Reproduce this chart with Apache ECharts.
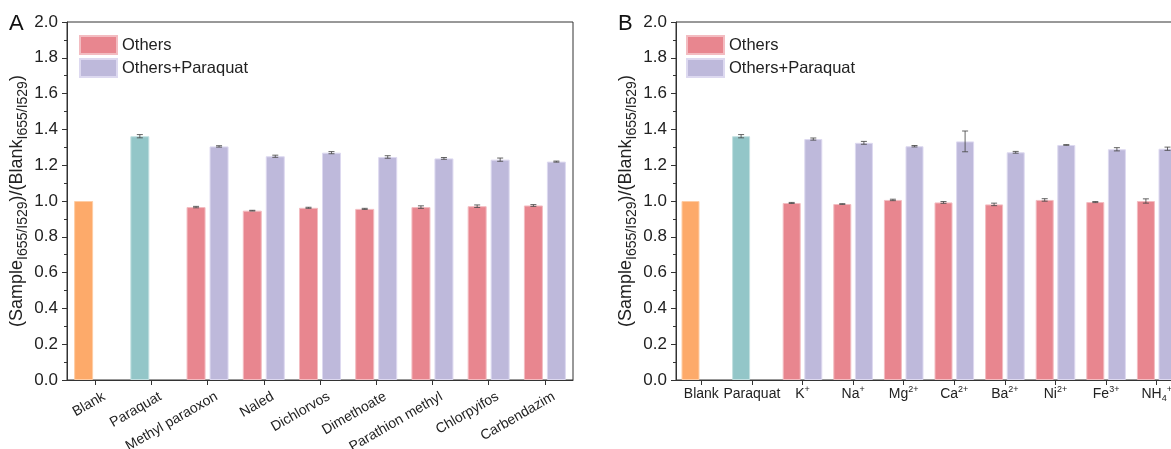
<!DOCTYPE html>
<html>
<head>
<meta charset="utf-8">
<script src="https://cdn.jsdelivr.net/npm/echarts@6/dist/echarts.min.js"></script>
<style>
  html, body { margin: 0; padding: 0; background: #fff; }
  #chart { width: 1171px; height: 449px; }
</style>
</head>
<body>
<div id="chart"></div>
<script>
// Panel A: pesticides
const catsA = ['Blank', 'Paraquat', 'Methyl paraoxon', 'Naled', 'Dichlorvos', 'Dimethoate', 'Parathion methyl', 'Chlorpyifos', 'Carbendazim'];
const othersA = [1.0, 1.362, 0.966, 0.946, 0.962, 0.956, 0.966, 0.971, 0.975];
const othersErrA = [0, 0.009, 0.004, 0.002, 0.003, 0.003, 0.007, 0.007, 0.005];
const plusA = [null, null, 1.305, 1.250, 1.270, 1.246, 1.238, 1.231, 1.220];
const plusErrA = [0, 0, 0.004, 0.006, 0.006, 0.007, 0.005, 0.009, 0.003];

// Panel B: metal ions
const catsB = ['Blank', 'Paraquat', 'K+', 'Na+', 'Mg2+', 'Ca2+', 'Ba2+', 'Ni2+', 'Fe3+', 'NH4+'];
const othersB = [1.0, 1.362, 0.989, 0.983, 1.006, 0.992, 0.981, 1.006, 0.994, 1.0];
const othersErrB = [0, 0.009, 0.003, 0.002, 0.004, 0.005, 0.007, 0.007, 0.003, 0.012];
const plusB = [null, null, 1.346, 1.325, 1.306, 1.333, 1.272, 1.313, 1.289, 1.292];
const plusErrB = [0, 0, 0.006, 0.008, 0.004, 0.058, 0.005, 0.002, 0.009, 0.009];

const yTicks = [0, 0.2, 0.4, 0.6, 0.8, 1.0, 1.2, 1.4, 1.6, 1.8, 2.0];
const seriesNames = ['Others', 'Others+Paraquat'];
const ionLabels = {
  'K+': 'K{sup|+}', 'Na+': 'Na{sup|+}', 'Mg2+': 'Mg{sup|2+}', 'Ca2+': 'Ca{sup|2+}',
  'Ba2+': 'Ba{sup|2+}', 'Ni2+': 'Ni{sup|2+}', 'Fe3+': 'Fe{sup|3+}', 'NH4+': 'NH{sub|4}{sup|+}'
};

const FONT = "'Liberation Sans', Arial, sans-serif";
const AXIS = '#333';
const C_OTHERS = '#E8868F', B_OTHERS = '#F3BCC1';
const C_PLUS = '#BEB9DB', B_PLUS = '#DDD9F0';
const C_BLANK = '#FDAA6A', B_BLANK = '#FECDA5';
const C_PQ = '#93C6C8', B_PQ = '#C3E0E1';

const chart = echarts.init(document.getElementById('chart'));

function firstSeriesData(vals) {
  return vals.map((v, i) => {
    if (i === 0) return { value: v, itemStyle: { color: C_BLANK, borderColor: B_BLANK } };
    if (i === 1) return { value: v, itemStyle: { color: C_PQ, borderColor: B_PQ } };
    return v;
  });
}

function errData(vals, errs) {
  const out = [];
  vals.forEach((v, i) => { if (v != null && errs[i] > 0) out.push([i, v, errs[i]]); });
  return out;
}

function errRender(sign, barW, gapRatio) {
  return function (params, api) {
    const i = api.value(0), v = api.value(1), e = api.value(2);
    const shift = sign * barW * (1 + gapRatio) / 2;
    const top = api.coord([i, v + e]);
    const bot = api.coord([i, v - e]);
    const x = top[0] + shift;
    const cap = 3;
    const style = { stroke: '#4a4a4a', lineWidth: 1, opacity: 0.85 };
    return {
      type: 'group',
      children: [
        { type: 'line', shape: { x1: x, y1: top[1], x2: x, y2: bot[1] }, style },
        { type: 'line', shape: { x1: x - cap, y1: top[1], x2: x + cap, y2: top[1] }, style },
        { type: 'line', shape: { x1: x - cap, y1: bot[1], x2: x + cap, y2: bot[1] }, style }
      ]
    };
  };
}

function yAxisFor(gridIndex) {
  return {
    type: 'value', gridIndex, min: 0, max: 2.0, interval: 0.2,
    name: '(Sample{s|I655/I529})/(Blank{s|I655/I529})',
    nameLocation: 'middle', nameGap: 35, nameRotate: 90,
    nameTextStyle: {
      fontFamily: FONT, fontSize: 18, color: '#222', lineHeight: 26,
      rich: { s: { fontFamily: FONT, fontSize: 14, color: '#222', lineHeight: 14, verticalAlign: 'bottom' } }
    },
    axisLine: { show: true, lineStyle: { color: AXIS, width: 1 } },
    axisTick: { show: true, inside: false, length: 5, lineStyle: { color: AXIS } },
    minorTick: { show: true, splitNumber: 2, length: 3, lineStyle: { color: AXIS } },
    splitLine: { show: false },
    axisLabel: {
      fontFamily: FONT, fontSize: 17, color: '#222', margin: 9,
      formatter: v => yTicks.includes(Math.round(v * 10) / 10) ? v.toFixed(1) : ''
    }
  };
}

const BW_A = 19, GAP_A = 0.21;
const BW_B = 18, GAP_B = 0.2;

const legendBase = {
  data: seriesNames, orient: 'vertical', top: 35, padding: 0,
  itemWidth: 37, itemHeight: 18, itemGap: 3, icon: 'rect',
  textStyle: { fontFamily: FONT, fontSize: 16.5, color: '#222' }
};

const option = {
  animation: false,
  backgroundColor: '#fff',
  textStyle: { fontFamily: FONT },
  graphic: [
    { type: 'text', left: 9, top: 13, style: { text: 'A', fontFamily: FONT, fontSize: 22, fill: '#111' } },
    { type: 'text', left: 618, top: 13, style: { text: 'B', fontFamily: FONT, fontSize: 22, fill: '#111' } }
  ],
  grid: [
    {
      left: 67, top: 22, width: 506, height: 358, containLabel: false, outerBoundsMode: 'none',
      show: true, borderColor: AXIS, borderWidth: 1, backgroundColor: 'transparent'
    },
    {
      left: 676, top: 22, width: 506, height: 358, containLabel: false, outerBoundsMode: 'none',
      show: true, borderColor: AXIS, borderWidth: 1, backgroundColor: 'transparent'
    }
  ],
  legend: [
    Object.assign({}, legendBase, { left: 79 }),
    Object.assign({}, legendBase, { left: 686 })
  ],
  xAxis: [
    {
      type: 'category', gridIndex: 0, data: catsA,
      axisLine: { lineStyle: { color: AXIS, width: 1 } },
      axisTick: { show: true, alignWithLabel: true, length: 5, lineStyle: { color: AXIS } },
      axisLabel: {
        fontFamily: FONT, fontSize: 14, color: '#222', rotate: 30, margin: 0, interval: 0,
        lineHeight: 18,
        // two blank lines above each name push the slanted text off the axis
        formatter: v => '\n\n' + v
      }
    },
    {
      type: 'category', gridIndex: 1, data: catsB,
      axisLine: { lineStyle: { color: AXIS, width: 1 } },
      axisTick: { show: true, alignWithLabel: true, length: 5, lineStyle: { color: AXIS } },
      axisLabel: {
        fontFamily: FONT, fontSize: 14, color: '#222', margin: 5, interval: 0, lineHeight: 18,
        formatter: v => ionLabels[v] || v,
        rich: {
          sup: { fontFamily: FONT, fontSize: 9, color: '#222', lineHeight: 9, verticalAlign: 'top' },
          sub: { fontFamily: FONT, fontSize: 9, color: '#222', lineHeight: 9, verticalAlign: 'bottom' }
        }
      }
    }
  ],
  yAxis: [yAxisFor(0), yAxisFor(1)],
  series: [
    {
      name: seriesNames[0], type: 'bar', xAxisIndex: 0, yAxisIndex: 0,
      barWidth: BW_A, barGap: (GAP_A * 100) + '%',
      itemStyle: { color: C_OTHERS, borderColor: B_OTHERS, borderWidth: 1 },
      data: firstSeriesData(othersA)
    },
    {
      name: seriesNames[1], type: 'bar', xAxisIndex: 0, yAxisIndex: 0,
      barWidth: BW_A, barGap: (GAP_A * 100) + '%',
      itemStyle: { color: C_PLUS, borderColor: B_PLUS, borderWidth: 1 },
      data: plusA.map(v => v == null ? '-' : v)
    },
    {
      type: 'custom', xAxisIndex: 0, yAxisIndex: 0, z: 5,
      renderItem: errRender(-1, BW_A, GAP_A), encode: { x: 0, y: 1 },
      data: errData(othersA, othersErrA)
    },
    {
      type: 'custom', xAxisIndex: 0, yAxisIndex: 0, z: 5,
      renderItem: errRender(1, BW_A, GAP_A), encode: { x: 0, y: 1 },
      data: errData(plusA, plusErrA)
    },
    {
      name: seriesNames[0], type: 'bar', xAxisIndex: 1, yAxisIndex: 1,
      barWidth: BW_B, barGap: (GAP_B * 100) + '%',
      itemStyle: { color: C_OTHERS, borderColor: B_OTHERS, borderWidth: 1 },
      data: firstSeriesData(othersB)
    },
    {
      name: seriesNames[1], type: 'bar', xAxisIndex: 1, yAxisIndex: 1,
      barWidth: BW_B, barGap: (GAP_B * 100) + '%',
      itemStyle: { color: C_PLUS, borderColor: B_PLUS, borderWidth: 1 },
      data: plusB.map(v => v == null ? '-' : v)
    },
    {
      type: 'custom', xAxisIndex: 1, yAxisIndex: 1, z: 5,
      renderItem: errRender(-1, BW_B, GAP_B), encode: { x: 0, y: 1 },
      data: errData(othersB, othersErrB)
    },
    {
      type: 'custom', xAxisIndex: 1, yAxisIndex: 1, z: 5,
      renderItem: errRender(1, BW_B, GAP_B), encode: { x: 0, y: 1 },
      data: errData(plusB, plusErrB)
    }
  ]
};

chart.setOption(option);
</script>
</body>
</html>
